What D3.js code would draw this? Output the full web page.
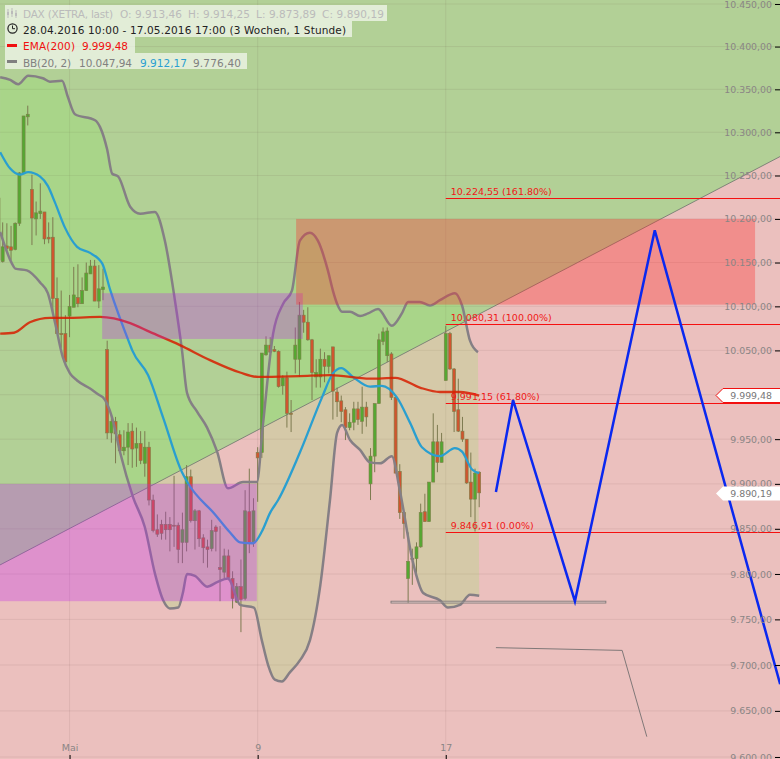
<!DOCTYPE html>
<html><head><meta charset="utf-8">
<style>html,body{margin:0;padding:0;background:#fff;overflow:hidden}svg{display:block}text{font-family:"DejaVu Sans",sans-serif}</style>
<script src="https://cdn.jsdelivr.net/npm/d3@7/dist/d3.min.js"></script>
</head><body><svg id="c" width="780" height="759"></svg>
<script>
const opens=[10224,10151,10169,10168,10165,10195,10253,10318,10234,10200,10206,10208,10179,10179,10109,10069,10069,10089,10099,10110,10103,10118,10137,10146,10106,10119,
10051,9957,9970,9955,9937,9941,9959,9940,9945,9923,9941,9882,9849,9855,9855,9855,9854,9854,9835,9835,9908,9859,9870,9840,9830,9828,9852,9807,9802,9820,9795,9769,9786,9773,9869,9835,9935,9935,
10045,10056,10051,10049,10010,10019,9979,10040,10040,10090,10082,10062,10020,10020,10040,10032,10054,10003,9993,9983,9963,9969,9984,9970,9986,9900,9931,9990,10060,10044,10046,9997,9914,9868,9795,9817,9817,9830,9869,9858,9902,9947,9924,10016,10069,10029,9983,9959,9950,9902,9883,9913];
const highs=[10224,10196,10195,10192,10196,10254,10319,10331,10251,10220,10241,10208,10196,10202,10133,10118,10090,10113,10145,10148,10133,10150,10153,10153,10147,10143,
10061,9977,9975,9960,9960,9968,9968,9963,9959,9959,9947,9888,9866,9860,9869,9863,9909,9857,9868,9921,9916,9872,9871,9844,9838,9860,9854,9853,9828,9827,9803,9790,9816,9893,9917,9884,9941,10047,
10066,10065,10055,10050,10022,10026,9994,10076,10105,10096,10099,10063,10040,10052,10048,10044,10054,10008,9999,9986,9979,9992,9992,10009,9992,9940,9990,10069,10076,10076,10048,9998,9922,9869,9846,9828,9835,9878,9889,9902,9979,9966,9957,10078,10071,10030,10018,9975,9950,9935,9917,9914];
const lows=[10153,10150,10164,10153,10164,10192,10253,10308,10170,10181,10200,10171,10172,10092,10069,10053,10037,10065,10099,10099,10103,10118,10137,10106,10098,10107,
9950,9946,9923,9937,9932,9921,9918,9919,9922,9908,9876,9846,9841,9838,9838,9825,9830,9812,9812,9825,9857,9827,9830,9812,9807,9825,9825,9770,9795,9793,9762,9768,9736,9771,9823,9830,9880,9929,
10044,10047,10048,10008,10000,9963,9958,10024,10020,10070,10061,9994,10008,10008,10014,10024,9972,9975,9969,9949,9960,9960,9966,9956,9964,9882,9913,9990,10056,10037,9994,9912,9861,9839,9768,9788,9797,9829,9858,9858,9902,9913,9924,10016,10028,9958,9958,9947,9900,9863,9847,9874];
const closes=[10153,10168,10166,10164,10195,10253,10319,10321,10201,10207,10209,10177,10177,10109,10069,10068,10037,10100,10113,10103,10118,10138,10146,10106,10120,10122,
9957,9970,9956,9937,9941,9958,9939,9945,9926,9941,9882,9848,9844,9845,9849,9849,9853,9827,9849,9908,9859,9870,9839,9829,9827,9848,9847,9805,9820,9796,9773,9786,9772,9870,9835,9870,9929,10047,
10056,10048,10049,10009,10019,9979,9978,10056,10090,10082,10062,10025,10025,10040,10032,10044,10004,9992,9981,9963,9969,9984,9972,9986,9975,9931,9990,10062,10071,10072,9997,9912,9868,9856,9814,9816,9830,9868,9858,9902,9947,9924,9947,10069,10029,9981,9959,9950,9901,9883,9912,9890];

const emaIdx=[0.4,3.7,7.5,12.3,17.1,24.3,31.5,36.2,43.4,50.6,57.8,62.1,72.1,79.3,88.9,94.9,100.8,105.6,110.4,115];
const emaVal=[10069,10070,10082,10087,10087,10088,10081,10071,10056,10039,10025,10020,10021,10022,10018,10019,10008,10003,10003,9999];
const maIdx=[0.4,2.8,5.1,7.1,9.9,11.8,13.5,15.9,18.8,21.9,24.8,26.7,31.5,32,35.8,39.4,43.9,45.3,51.8,55.4,57.8,60.9,63,65,66.9,72.1,77.4,80,82,84.8,88.9,91.7,95.3,98.5,101.3,105.6,109.2,110.9,113.3,115];
const maVal=[10277,10258,10251,10254,10249,10238,10219,10190,10168,10161,10149,10119,10056,10050,10022,9974,9913,9901,9866,9846,9835,9834,9847,9868,9882,9935,9997,10024,10030,10020,10009,10010,9997,9968,9941,9931,9940,9936,9916,9912];
const upIdx=[0.4,2.8,4.7,7.1,10.6,12.3,15.2,16.6,18.3,23.1,24.3,26,27.2,28.6,31.5,33.9,37.4,39.8,42.2,43.9,45.1,47.5,49.9,52.3,54.9,58.5,61.8,63.3,65.7,68.1,70.2,72.1,74.5,76.4,78.8,80,81,82.2,84.1,86.5,88.4,90.8,94.1,96.5,98,100.8,103.2,105.6,109.2,110.9,112.8,114.7];
const upVal=[10364,10361,10356,10366,10363,10359,10360,10341,10321,10314,10306,10280,10252,10249,10214,10206,10208,10175,10107,10050,10002,9981,9963,9936,9895,9902,9902,9968,10069,10103,10118,10175,10184,10175,10141,10118,10103,10094,10094,10089,10092,10097,10078,10092,10105,10105,10101,10107,10115,10101,10061,10048];
const loIdx=[0.4,3.2,4,6.8,10,11.8,13.5,15.4,17.1,18.8,21.9,24.3,25,27.2,29.1,32.2,35,37.4,39.4,41,43,44.1,45.1,47,49.9,52.3,54.9,57.8,61.1,63,64.5,66.1,67.8,69.7,72.1,74.5,77,79.3,81,82.2,84.1,86.5,88.9,91.3,94.1,96,99.2,101.6,105.6,107.5,110.4,112.8,115];
const loVal=[10185,10149,10143,10141,10127,10115,10082,10042,10024,10016,10007,9999,9997,9974,9935,9885,9852,9801,9771,9762,9763,9779,9800,9798,9786,9791,9795,9766,9763,9727,9700,9684,9682,9692,9705,9727,9788,9882,9957,9966,9949,9938,9924,9923,9931,9893,9812,9779,9771,9763,9766,9777,9776];

const trendIdx=[0.36,187], trendVal=[9810,10272];
const zoneIdx=[[0.36,61.8],[24.8,72.8],[71.2,181]];
const zoneVal=[[9900,9770],[10115,10063],[10200,10102]];
const fibVal=[10224.55,10080.31,9991.15,9846.91];
const fibLbl=["10.224,55 (161.80%)","10.080,31 (100.00%)","9.991,15 (61.80%)","9.846,91 (0.00%)"];
const blueIdx=[119,123.1,137.9,157,187], blueVal=[9891,9994,9770,10187,9679];
const greyIdx=[119,149.2,155.1], greyVal=[9719,9716,9622];
const supportIdx=[93.9,145.3], supportVal=[9770,9768];
const yTicks=d3.range(9600,10451,50);
const xTickIdx=[17,62,107], xTickLbl=["Mai","9","17"];
const lastEma=9999.48, lastClose=9890.19;

const W=780,H=759;
const x=d3.scaleLinear().domain([0,115]).range([-1.5,479.2]);
const y=d3.scaleLog().domain([9600,10450]).range([757,4]);
const de=d3.formatLocale({decimal:",",thousands:".",grouping:[3],currency:["","€"]});
const fmt=de.format(",.2f");
const svg=d3.select("#c");
const PINK="rgb(235,192,190)",GREEN="rgb(178,208,150)";
svg.append("rect").attr("width",W).attr("height",H).attr("fill",PINK);
const tx0=x(trendIdx[0]),ty0=y(trendVal[0]),tx1=x(trendIdx[1]),ty1=y(trendVal[1]);
svg.append("path").attr("d",d3.line()([[0,0],[0,ty0],[tx1,ty1],[W,0]])+"Z").attr("fill",GREEN);

// grid
svg.append("g").selectAll("line").data(yTicks).join("line")
 .attr("x1",0).attr("x2",W).attr("y1",d=>y(d)).attr("y2",d=>y(d)).attr("stroke","rgba(90,60,60,.09)");
svg.append("g").selectAll("line").data(xTickIdx).join("line")
 .attr("x1",d=>x(d)).attr("x2",d=>x(d)).attr("y1",0).attr("y2",H).attr("stroke","rgba(90,60,60,.09)");

// Bollinger fill
const lnPts=d3.line().x(d=>x(d[0])).y(d=>y(d[1])).curve(d3.curveMonotoneX);
const upper=upIdx.map((v,i)=>[v,upVal[i]]), lower=loIdx.map((v,i)=>[v,loVal[i]]);
const upPath=lnPts(upper), loPath=lnPts(lower.slice().reverse());
svg.append("path").attr("d",upPath+"L"+loPath.slice(1)+"Z").attr("fill","rgb(135,232,90)").attr("fill-opacity",.22);

// trend line
svg.append("line").attr("x1",tx0).attr("y1",ty0).attr("x2",tx1).attr("y2",ty1).attr("stroke","#7f8478").attr("stroke-width",1);

// candles
const idx=d3.range(opens.length);
const cg=svg.append("g");
cg.selectAll("line").data(idx).join("line")
 .attr("x1",i=>x(i)).attr("x2",i=>x(i)).attr("y1",i=>y(highs[i])).attr("y2",i=>y(lows[i]))
 .attr("stroke","#7d7a50").attr("stroke-width",1);
cg.selectAll("rect").data(idx).join("rect")
 .attr("x",i=>x(i)-1.5).attr("width",3)
 .attr("y",i=>y(Math.max(opens[i],closes[i])))
 .attr("height",i=>Math.max(1,Math.abs(y(opens[i])-y(closes[i]))))
 .attr("fill",i=>closes[i]>=opens[i]?"#55a832":"#d0552f")
 .attr("stroke","#7d7f48").attr("stroke-width",.6);

// indicators
const addLine=(ix,vals,col,w)=>svg.append("path").attr("d",lnPts(ix.map((v,i)=>[v,vals[i]]))).attr("fill","none").attr("stroke",col).attr("stroke-width",w);
addLine(upIdx,upVal,"#857f85",2.5);
addLine(loIdx,loVal,"#857f85",2.5);
addLine(maIdx,maVal,"#2a9fd0",2.3);
addLine(emaIdx,emaVal,"rgba(215,30,0,.85)",2.3);

// zones
const zoneCol=[["rgb(191,35,240)",.3],["rgb(191,35,240)",.3],["rgb(255,40,40)",.33]];
zoneIdx.forEach((z,i)=>{
 svg.append("rect").attr("x",x(z[0])).attr("width",x(z[1])-x(z[0]))
  .attr("y",y(zoneVal[i][0])).attr("height",y(zoneVal[i][1])-y(zoneVal[i][0]))
  .attr("fill",zoneCol[i][0]).attr("fill-opacity",zoneCol[i][1]);
});

// support box
svg.append("rect").attr("x",x(supportIdx[0])).attr("width",x(supportIdx[1])-x(supportIdx[0]))
 .attr("y",y(supportVal[0])).attr("height",y(supportVal[1])-y(supportVal[0]))
 .attr("fill","rgba(255,255,255,.25)").attr("stroke","#7d7878").attr("stroke-width",.9);

// fib
fibVal.forEach((v,i)=>{
 const yy=Math.round(y(v))+.5;
 svg.append("line").attr("x1",x(107)).attr("x2",W).attr("y1",yy).attr("y2",yy).attr("stroke","#f51010").attr("stroke-width",1);
 svg.append("text").attr("x",x(107)+5).attr("y",yy-3.5).attr("fill","#f01818").attr("font-size",9.5).text(fibLbl[i]);
});

// drawings
svg.append("path").attr("d",d3.line().x(d=>x(d[0])).y(d=>y(d[1]))(greyIdx.map((v,i)=>[v,greyVal[i]]))).attr("fill","none").attr("stroke","#807878").attr("stroke-width",1);
svg.append("path").attr("d",d3.line().x(d=>x(d[0])).y(d=>y(d[1]))(blueIdx.map((v,i)=>[v,blueVal[i]]))).attr("fill","none").attr("stroke","#0a28f0").attr("stroke-width",2.5);

// axes
const ya=svg.append("g").attr("transform",`translate(${W},0)`).call(d3.axisLeft(y).tickValues(yTicks).tickFormat(fmt).tickSize(5).tickPadding(3));
ya.select(".domain").remove();
ya.selectAll("line").attr("stroke","#000");
ya.selectAll("text").attr("fill","#8a8585").attr("font-size",9.4).style("font-family",'"DejaVu Sans",sans-serif');
const xa=svg.append("g").attr("transform",`translate(0,${H})`).call(d3.axisTop(x).tickValues(xTickIdx).tickFormat((d,i)=>xTickLbl[i]).tickSize(4).tickPadding(4));
xa.select(".domain").remove();
xa.selectAll("line").attr("stroke","#000");
xa.selectAll("text").attr("fill","#8a8585").attr("font-size",9.4).style("font-family",'"DejaVu Sans",sans-serif');

// tags
const tag=(v,stroke)=>{
 const yy=Math.round(y(v))+.5;
 svg.append("path").attr("d",d3.line()([[W,yy-7],[723,yy-7],[716,yy],[723,yy+7],[W,yy+7]]))
  .attr("fill","#fff").attr("stroke",stroke||"none").attr("stroke-width",1);
 svg.append("text").attr("x",772).attr("y",yy+3.5).attr("text-anchor","end").attr("fill","#777").attr("font-size",9.4).text(fmt(v));
};
tag(lastEma,"#f01010");
tag(lastClose);

// legend
const rows=[[5,387,5],[5,352,21],[5,135,37],[5,247,53]];
rows.forEach(r=>svg.append("rect").attr("x",r[0]).attr("y",r[2]).attr("width",r[1]-r[0]).attr("height",16).attr("fill","rgba(255,255,255,.62)"));
const legendTexts=[
 [23,18,"DAX (XETRA, last)","#bbb"],[120,18,"O: 9.913,46","#bbb"],[188,18,"H: 9.914,25","#bbb"],[256,18,"L: 9.873,89","#bbb"],[322,18,"C: 9.890,19","#bbb"],
 [23,34,"28.04.2016 10:00 - 17.05.2016 17:00 (3 Wochen, 1 Stunde)","#222"],
 [23,50,"EMA(200)","#f01010"],[82,50,"9.999,48","#f01010"],
 [23,67,"BB(20, 2)","#808080"],[79,67,"10.047,94","#808080"],[140,67,"9.912,17","#2a9fd0"],[193,67,"9.776,40","#808080"]];
const legendWidths=[90,62,62,60,62,323,52,46,48,53,47,48];
legendTexts.forEach((t,i)=>svg.append("text").attr("x",t[0]).attr("y",t[1]).attr("fill",t[3]).attr("font-size",10.5)
 .attr("textLength",legendWidths[i]).attr("lengthAdjust","spacing").text(t[2]));
// row icons
svg.append("rect").attr("x",7).attr("y",44).attr("width",10).attr("height",3).attr("fill","#f01010");
svg.append("rect").attr("x",7).attr("y",60).attr("width",10).attr("height",3).attr("fill","#808080");
svg.append("circle").attr("cx",12.5).attr("cy",28.5).attr("r",4.6).attr("fill","none").attr("stroke","#222").attr("stroke-width",1.2);
svg.append("path").attr("d","M12.5 25.5V28.7H15").attr("fill","none").attr("stroke","#222");
[[8,9,18],[12,8,17],[16,10,18]].forEach(a=>{
 svg.append("line").attr("x1",a[0]).attr("x2",a[0]).attr("y1",a[1]).attr("y2",a[2]).attr("stroke","#bbb");
 svg.append("rect").attr("x",a[0]-1).attr("y",a[1]+3).attr("width",2).attr("height",3).attr("fill","#bbb");
});
</script></body></html>
